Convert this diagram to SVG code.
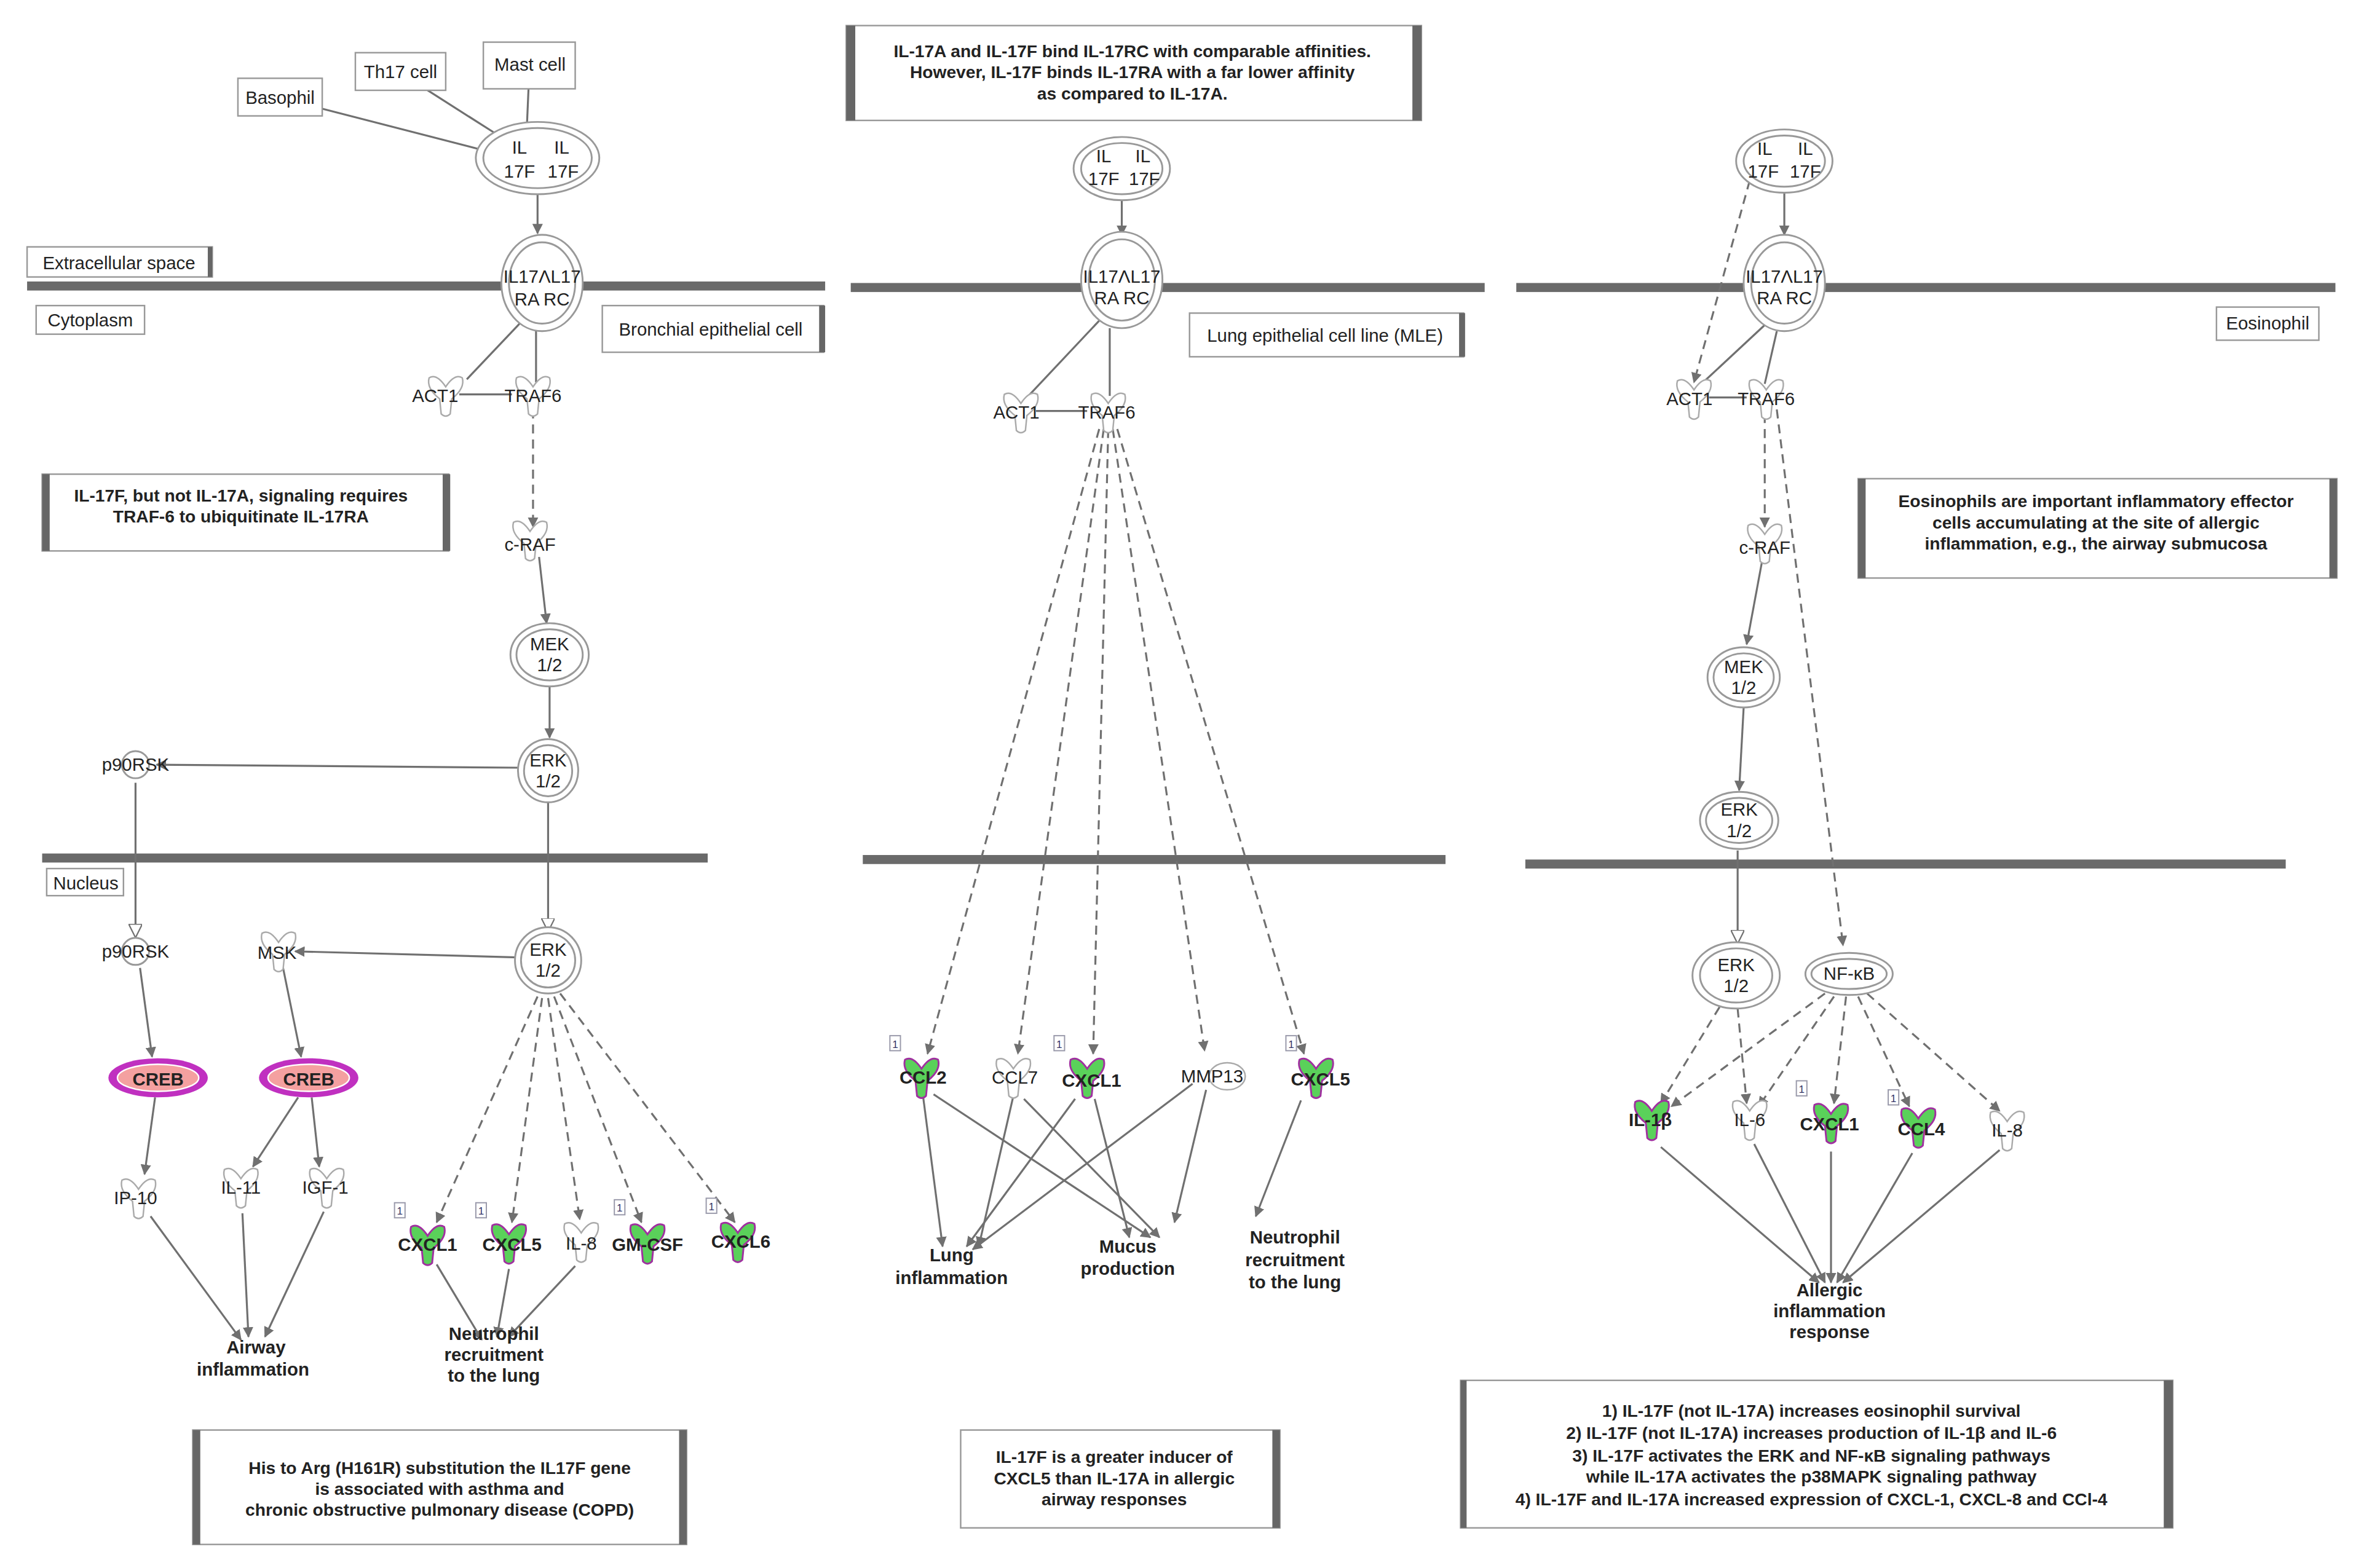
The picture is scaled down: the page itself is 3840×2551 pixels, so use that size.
<svg xmlns="http://www.w3.org/2000/svg" width="3840" height="2551" viewBox="0 0 3840 2551">
<defs>
<style>
text{font-family:"Liberation Sans",Arial,sans-serif;fill:#222}
.lb{font-size:12px;text-anchor:middle}
.bd{font-size:12px;font-weight:bold;text-anchor:middle}
.nt{font-size:11.5px;font-weight:bold;text-anchor:middle}
.c{stroke:#707070;stroke-width:1.3;fill:none}
.f{marker-end:url(#a)}
.o{marker-end:url(#oa)}
.d{stroke-dasharray:6,4}
.box{fill:#fff;stroke:#999;stroke-width:1}
.tb{fill:#666}
.mem{fill:#6a6a6a}
.dbl{fill:#fff;stroke:#999;stroke-width:1.2}
.cg{fill:#5ad15a;stroke:#a030a0;stroke-width:1.2}
.cw{fill:#fff;stroke:#aaa;stroke-width:1}
.badge{fill:#fff;stroke:#99a;stroke-width:0.8}
.bt{font-size:7px;text-anchor:middle;fill:#336}
</style>
<marker id="a" viewBox="0 0 10 10" refX="9" refY="5" markerWidth="7" markerHeight="7" orient="auto" markerUnits="userSpaceOnUse"><path d="M0,0L10,5L0,10Z" fill="#707070"/></marker>
<marker id="oa" viewBox="0 0 10 10" refX="9" refY="5" markerWidth="9" markerHeight="9" orient="auto" markerUnits="userSpaceOnUse"><path d="M0,0L10,5L0,10Z" fill="#fff" stroke="#707070"/></marker>
<path id="cy" d="M-11,-11 Q-6,-14 0,-5 Q6,-14 11,-11 Q13,-4 4,3 L3,13 Q0,16 -3,13 L-4,3 Q-13,-4 -11,-11Z"/>
</defs>
<rect width="3840" height="2551" fill="#fff"/>
<g transform="scale(2.449)">
<!-- membranes -->
<g id="membranes">
<rect class="mem" x="18" y="187" width="530" height="6"/>
<rect class="mem" x="28" y="567" width="442" height="6"/>
<rect class="mem" x="565" y="188" width="421" height="6"/>
<rect class="mem" x="573" y="568" width="387" height="6"/>
<rect class="mem" x="1007" y="188" width="544" height="6"/>
<rect class="mem" x="1013" y="571" width="505" height="6"/>
</g>
<!-- connectors -->
<g id="connectors">
<line class="c" x1="213" y1="72" x2="318" y2="99"/>
<line class="c" x1="284" y1="60" x2="328" y2="88"/>
<line class="c" x1="351" y1="59" x2="350" y2="82"/>
<line class="c f" x1="357" y1="129" x2="357" y2="155"/>
<line class="c" x1="346" y1="214" x2="310" y2="252"/>
<line class="c" x1="356" y1="220" x2="356" y2="254"/>
<line class="c" x1="305" y1="262" x2="340" y2="262"/>
<line class="c f d" x1="354" y1="272" x2="354" y2="350"/>
<line class="c f" x1="358" y1="370" x2="363" y2="414"/>
<line class="c f" x1="365" y1="455" x2="365" y2="490"/>
<line class="c f" x1="345" y1="510" x2="104" y2="508"/>
<line class="c o" x1="90" y1="520" x2="90" y2="622"/>
<line class="c o" x1="364" y1="533" x2="364" y2="618"/>
<line class="c f" x1="344" y1="636" x2="196" y2="632"/>
<line class="c f" x1="93" y1="643" x2="101" y2="702"/>
<line class="c f" x1="188" y1="643" x2="200" y2="702"/>
<line class="c f" x1="103" y1="729" x2="96" y2="780"/>
<line class="c f" x1="198" y1="729" x2="168" y2="775"/>
<line class="c f" x1="207" y1="729" x2="212" y2="775"/>
<line class="c f" x1="100" y1="808" x2="160" y2="890"/>
<line class="c f" x1="161" y1="806" x2="165" y2="888"/>
<line class="c f" x1="215" y1="805" x2="176" y2="888"/>
<line class="c f d" x1="357" y1="662" x2="290" y2="812"/>
<line class="c f d" x1="360" y1="663" x2="340" y2="812"/>
<line class="c f d" x1="364" y1="663" x2="385" y2="810"/>
<line class="c f d" x1="368" y1="662" x2="426" y2="812"/>
<line class="c f d" x1="372" y1="660" x2="488" y2="812"/>
<line class="c f" x1="290" y1="840" x2="320" y2="890"/>
<line class="c f" x1="338" y1="843" x2="330" y2="888"/>
<line class="c f" x1="382" y1="841" x2="338" y2="888"/>
<!-- middle -->
<line class="c f" x1="745" y1="133" x2="745" y2="156"/>
<line class="c" x1="731" y1="212" x2="683" y2="263"/>
<line class="c" x1="737" y1="218" x2="737" y2="263"/>
<line class="c" x1="688" y1="273" x2="722" y2="273"/>
<line class="c f d" x1="730" y1="285" x2="616" y2="700"/>
<line class="c f d" x1="733" y1="285" x2="676" y2="700"/>
<line class="c f d" x1="736" y1="285" x2="726" y2="700"/>
<line class="c f d" x1="739" y1="285" x2="800" y2="698"/>
<line class="c f d" x1="742" y1="285" x2="866" y2="700"/>
<line class="c f" x1="613" y1="728" x2="626" y2="828"/>
<line class="c f" x1="620" y1="727" x2="764" y2="822"/>
<line class="c f" x1="673" y1="728" x2="650" y2="828"/>
<line class="c f" x1="680" y1="730" x2="770" y="822" y2="822"/>
<line class="c f" x1="714" y1="730" x2="642" y2="828"/>
<line class="c f" x1="727" y1="730" x2="750" y2="822"/>
<line class="c f" x1="792" y1="720" x2="646" y2="830"/>
<line class="c f" x1="801" y1="724" x2="780" y2="812"/>
<line class="c f" x1="864" y1="731" x2="834" y2="808"/>
<!-- right -->
<line class="c f" x1="1185" y1="128" x2="1185" y2="156"/>
<line class="c f d" x1="1162" y1="120" x2="1125" y2="254"/>
<line class="c" x1="1173" y1="215" x2="1130" y2="255"/>
<line class="c" x1="1180" y1="220" x2="1172" y2="255"/>
<line class="c" x1="1135" y1="264" x2="1160" y2="264"/>
<line class="c f d" x1="1172" y1="275" x2="1172" y2="350"/>
<line class="c f d" x1="1180" y1="272" x2="1224" y2="628"/>
<line class="c f" x1="1170" y1="374" x2="1160" y2="428"/>
<line class="c f" x1="1158" y1="470" x2="1155" y2="525"/>
<line class="c o" x1="1154" y1="565" x2="1154" y2="626"/>
<line class="c f d" x1="1142" y1="669" x2="1103" y2="733"/>
<line class="c f d" x1="1154" y1="670" x2="1160" y2="733"/>
<line class="c f d" x1="1212" y1="660" x2="1110" y2="735"/>
<line class="c f d" x1="1218" y1="662" x2="1168" y2="735"/>
<line class="c f d" x1="1226" y1="662" x2="1218" y2="733"/>
<line class="c f d" x1="1234" y1="662" x2="1268" y2="735"/>
<line class="c f d" x1="1240" y1="660" x2="1328" y2="738"/>
<line class="c f" x1="1103" y1="762" x2="1208" y2="852"/>
<line class="c f" x1="1165" y1="760" x2="1212" y2="852"/>
<line class="c f" x1="1216" y1="765" x2="1216" y2="852"/>
<line class="c f" x1="1270" y1="766" x2="1220" y2="852"/>
<line class="c f" x1="1328" y1="764" x2="1224" y2="852"/>
</g>
<!-- labels & notes -->
<g id="labels">
<rect class="box" x="158" y="52" width="56" height="25"/><text class="lb" x="186" y="69">Basophil</text>
<rect class="box" x="236" y="35" width="60" height="25"/><text class="lb" x="266" y="52">Th17 cell</text>
<rect class="box" x="321" y="28" width="61" height="31"/><text class="lb" x="352" y="47">Mast cell</text>
<rect class="box" x="18" y="164" width="123" height="20"/><rect class="tb" x="138" y="164" width="3" height="20"/><text class="lb" x="79" y="179">Extracellular space</text>
<rect class="box" x="24" y="203" width="72" height="19"/><text class="lb" x="60" y="217">Cytoplasm</text>
<rect class="box" x="400" y="203" width="147" height="31"/><rect class="tb" x="544" y="203" width="4" height="31"/><text class="lb" x="472" y="223">Bronchial epithelial cell</text>
<rect class="box" x="31" y="577" width="51" height="18"/><text class="lb" x="57" y="591">Nucleus</text>
<rect class="box" x="790" y="208" width="182" height="29"/><rect class="tb" x="969" y="208" width="4" height="29"/><text class="lb" x="880" y="227">Lung epithelial cell line (MLE)</text>
<rect class="box" x="1472" y="204" width="68" height="22"/><text class="lb" x="1506" y="219">Eosinophil</text>
</g>
<g id="note1"><rect class="box" x="28" y="315" width="270" height="51"/><rect class="tb" x="28" y="315" width="5" height="51"/><rect class="tb" x="294" y="315" width="5" height="51"/>
<text class="nt" x="160" y="333">IL-17F, but not IL-17A, signaling requires</text><text class="nt" x="160" y="347">TRAF-6 to ubiquitinate IL-17RA</text></g>
<g id="note2"><rect class="box" x="128" y="950" width="328" height="76"/><rect class="tb" x="128" y="950" width="5" height="76"/><rect class="tb" x="451" y="950" width="5" height="76"/>
<text class="nt" x="292" y="979">His to Arg (H161R) substitution the IL17F gene</text><text class="nt" x="292" y="993">is associated with asthma and</text><text class="nt" x="292" y="1007">chronic obstructive pulmonary disease (COPD)</text></g>
<g id="note3"><rect class="box" x="562" y="17" width="382" height="63"/><rect class="tb" x="562" y="17" width="6" height="63"/><rect class="tb" x="938" y="17" width="6" height="63"/>
<text class="nt" x="752" y="38">IL-17A and IL-17F bind IL-17RC with comparable affinities.</text><text class="nt" x="752" y="52">However, IL-17F binds IL-17RA with a far lower affinity</text><text class="nt" x="752" y="66">as compared to IL-17A.</text></g>
<g id="note4"><rect class="box" x="638" y="950" width="212" height="65"/><rect class="tb" x="845" y="950" width="5" height="65"/>
<text class="nt" x="740" y="972">IL-17F is a greater inducer of</text><text class="nt" x="740" y="986">CXCL5 than IL-17A in allergic</text><text class="nt" x="740" y="1000">airway responses</text></g>
<g id="note5"><rect class="box" x="1234" y="318" width="318" height="66"/><rect class="tb" x="1234" y="318" width="5" height="66"/><rect class="tb" x="1547" y="318" width="5" height="66"/>
<text class="nt" x="1392" y="337">Eosinophils are important inflammatory effector</text><text class="nt" x="1392" y="351">cells accumulating at the site of allergic</text><text class="nt" x="1392" y="365">inflammation, e.g., the airway submucosa</text></g>
<g id="note6"><rect class="box" x="970" y="917" width="473" height="98"/><rect class="tb" x="970" y="917" width="4" height="98"/><rect class="tb" x="1437" y="917" width="6" height="98"/>
<text class="nt" x="1203" y="941">1) IL-17F (not IL-17A) increases eosinophil survival</text>
<text class="nt" x="1203" y="956">2) IL-17F (not IL-17A) increases production of IL-1β and IL-6</text>
<text class="nt" x="1203" y="971">3) IL-17F activates the ERK and NF-κB signaling pathways</text>
<text class="nt" x="1203" y="985">while IL-17A activates the p38MAPK signaling pathway</text>
<text class="nt" x="1203" y="1000">4) IL-17F and IL-17A increased expression of CXCL-1, CXCL-8 and CCl-4</text></g>
<!-- left nodes -->
<g id="IL17F_L"><ellipse class="dbl" cx="357" cy="105" rx="41" ry="24"/><ellipse class="dbl" cx="357" cy="105" rx="36" ry="20"/><text class="lb" x="345" y="102">IL</text><text class="lb" x="373" y="102">IL</text><text class="lb" x="345" y="118">17F</text><text class="lb" x="374" y="118">17F</text></g>
<g id="IL17R_L"><ellipse class="dbl" cx="360" cy="188" rx="27" ry="32"/><ellipse class="dbl" cx="360" cy="188" rx="22" ry="27"/><text class="lb" x="360" y="188">IL17ΛL17</text><text class="lb" x="360" y="203">RA RC</text></g>
<g id="ACT1_L"><use href="#cy" x="296" y="262" class="cw" transform="rotate(0)"/><text class="lb" x="289" y="267">ACT1</text></g>
<g id="TRAF6_L"><use href="#cy" x="354" y="262" class="cw"/><text class="lb" x="354" y="267">TRAF6</text></g>
<g id="cRAF_L"><use href="#cy" x="352" y="358" class="cw"/><text class="lb" x="352" y="366">c-RAF</text></g>
<g id="MEK_L"><ellipse class="dbl" cx="365" cy="435" rx="26" ry="21"/><ellipse class="dbl" cx="365" cy="435" rx="22" ry="17"/><text class="lb" x="365" y="432">MEK</text><text class="lb" x="365" y="446">1/2</text></g>
<g id="ERK_L1"><ellipse class="dbl" cx="364" cy="512" rx="20" ry="21"/><ellipse class="dbl" cx="364" cy="512" rx="16" ry="17"/><text class="lb" x="364" y="509">ERK</text><text class="lb" x="364" y="523">1/2</text></g>
<g id="p90RSK_1"><circle class="dbl" cx="90" cy="508" r="9"/><text class="lb" x="90" y="512">p90RSK</text></g>
<g id="ERK_L2"><ellipse class="dbl" cx="364" cy="638" rx="22" ry="22"/><ellipse class="dbl" cx="364" cy="638" rx="18" ry="18"/><text class="lb" x="364" y="635">ERK</text><text class="lb" x="364" y="649">1/2</text></g>
<g id="p90RSK_2"><circle class="dbl" cx="90" cy="632" r="9"/><text class="lb" x="90" y="636">p90RSK</text></g>
<g id="MSK"><use href="#cy" x="185" y="631" class="cw"/><text class="lb" x="184" y="637">MSK</text></g>
<g id="CREB1"><ellipse cx="105" cy="716" rx="33" ry="13" fill="#c030c0"/><ellipse cx="105" cy="716" rx="27" ry="9" fill="#f4a0a0" stroke="#fff" stroke-width="1"/><text class="bd" x="105" y="721">CREB</text></g>
<g id="CREB2"><ellipse cx="205" cy="716" rx="33" ry="13" fill="#c030c0"/><ellipse cx="205" cy="716" rx="27" ry="9" fill="#f4a0a0" stroke="#fff" stroke-width="1"/><text class="bd" x="205" y="721">CREB</text></g>
<g id="IP10"><use href="#cy" x="92" y="795" class="cw"/><text class="lb" x="90" y="800">IP-10</text></g>
<g id="IL11"><use href="#cy" x="160" y="788" class="cw"/><text class="lb" x="160" y="793">IL-11</text></g>
<g id="IGF1"><use href="#cy" x="217" y="788" class="cw"/><text class="lb" x="216" y="793">IGF-1</text></g>
<g id="Airway"><text class="bd" x="170" y="899">Airway</text><text class="bd" x="168" y="914">inflammation</text></g>
<g id="CXCL1_L"><use href="#cy" x="284" y="826" class="cg"/><text class="bd" x="284" y="831">CXCL1</text><rect class="badge" x="262" y="799" width="7" height="10"/><text class="bt" x="265.5" y="807">1</text></g>
<g id="CXCL5_L"><use href="#cy" x="338" y="825" class="cg"/><text class="bd" x="340" y="831">CXCL5</text><rect class="badge" x="316" y="799" width="7" height="10"/><text class="bt" x="319.5" y="807">1</text></g>
<g id="IL8_L"><use href="#cy" x="386" y="824" class="cw"/><text class="lb" x="386" y="830">IL-8</text></g>
<g id="GMCSF"><use href="#cy" x="430" y="825" class="cg"/><text class="bd" x="430" y="831">GM-CSF</text><rect class="badge" x="408" y="797" width="7" height="10"/><text class="bt" x="411.5" y="805">1</text></g>
<g id="CXCL6"><use href="#cy" x="490" y="824" class="cg"/><text class="bd" x="492" y="829">CXCL6</text><rect class="badge" x="469" y="796" width="7" height="10"/><text class="bt" x="472.5" y="804">1</text></g>
<g id="Neut_L"><text class="bd" x="328" y="890">Neutrophil</text><text class="bd" x="328" y="904">recruitment</text><text class="bd" x="328" y="918">to the lung</text></g>
<!-- middle nodes -->
<g id="IL17F_M"><ellipse class="dbl" cx="745" cy="112" rx="32" ry="21"/><ellipse class="dbl" cx="745" cy="112" rx="27" ry="17"/><text class="lb" x="733" y="108">IL</text><text class="lb" x="759" y="108">IL</text><text class="lb" x="733" y="123">17F</text><text class="lb" x="760" y="123">17F</text></g>
<g id="IL17R_M"><ellipse class="dbl" cx="745" cy="186" rx="27" ry="32"/><ellipse class="dbl" cx="745" cy="186" rx="22" ry="27"/><text class="lb" x="745" y="188">IL17ΛL17</text><text class="lb" x="745" y="202">RA RC</text></g>
<g id="ACT1_M"><use href="#cy" x="678" y="273" class="cw"/><text class="lb" x="675" y="278">ACT1</text></g>
<g id="TRAF6_M"><use href="#cy" x="736" y="273" class="cw"/><text class="lb" x="735" y="278">TRAF6</text></g>
<g id="CCL2"><use href="#cy" x="612" y="715" class="cg"/><text class="bd" x="613" y="720">CCL2</text><rect class="badge" x="591" y="688" width="7" height="10"/><text class="bt" x="594.5" y="696">1</text></g>
<g id="CCL7"><use href="#cy" x="673" y="715" class="cw"/><text class="lb" x="674" y="720">CCL7</text></g>
<g id="CXCL1_M"><use href="#cy" x="722" y="715" class="cg"/><text class="bd" x="725" y="722">CXCL1</text><rect class="badge" x="700" y="688" width="7" height="10"/><text class="bt" x="703.5" y="696">1</text></g>
<g id="MMP13"><ellipse class="cw" cx="815" cy="715" rx="12" ry="9"/><text class="lb" x="805" y="719">MMP13</text></g>
<g id="CXCL5_M"><use href="#cy" x="874" y="715" class="cg"/><text class="bd" x="877" y="721">CXCL5</text><rect class="badge" x="854" y="688" width="7" height="10"/><text class="bt" x="857.5" y="696">1</text></g>
<g id="LungInf"><text class="bd" x="632" y="838">Lung</text><text class="bd" x="632" y="853">inflammation</text></g>
<g id="Mucus"><text class="bd" x="749" y="832">Mucus</text><text class="bd" x="749" y="847">production</text></g>
<g id="Neut_M"><text class="bd" x="860" y="826">Neutrophil</text><text class="bd" x="860" y="841">recruitment</text><text class="bd" x="860" y="856">to the lung</text></g>
<!-- right nodes -->
<g id="IL17F_R"><ellipse class="dbl" cx="1185" cy="107" rx="32" ry="21"/><ellipse class="dbl" cx="1185" cy="107" rx="27" ry="17"/><text class="lb" x="1172" y="103">IL</text><text class="lb" x="1199" y="103">IL</text><text class="lb" x="1171" y="118">17F</text><text class="lb" x="1199" y="118">17F</text></g>
<g id="IL17R_R"><ellipse class="dbl" cx="1185" cy="188" rx="27" ry="32"/><ellipse class="dbl" cx="1185" cy="188" rx="22" ry="27"/><text class="lb" x="1185" y="188">IL17ΛL17</text><text class="lb" x="1185" y="202">RA RC</text></g>
<g id="ACT1_R"><use href="#cy" x="1125" y="264" class="cw"/><text class="lb" x="1122" y="269">ACT1</text></g>
<g id="TRAF6_R"><use href="#cy" x="1173" y="264" class="cw"/><text class="lb" x="1173" y="269">TRAF6</text></g>
<g id="cRAF_R"><use href="#cy" x="1172" y="360" class="cw"/><text class="lb" x="1172" y="368">c-RAF</text></g>
<g id="MEK_R"><ellipse class="dbl" cx="1158" cy="450" rx="24" ry="20"/><ellipse class="dbl" cx="1158" cy="450" rx="20" ry="16"/><text class="lb" x="1158" y="447">MEK</text><text class="lb" x="1158" y="461">1/2</text></g>
<g id="ERK_R1"><ellipse class="dbl" cx="1155" cy="545" rx="26" ry="19"/><ellipse class="dbl" cx="1155" cy="545" rx="22" ry="15"/><text class="lb" x="1155" y="542">ERK</text><text class="lb" x="1155" y="556">1/2</text></g>
<g id="ERK_R2"><ellipse class="dbl" cx="1153" cy="648" rx="29" ry="22"/><ellipse class="dbl" cx="1153" cy="648" rx="24" ry="18"/><text class="lb" x="1153" y="645">ERK</text><text class="lb" x="1153" y="659">1/2</text></g>
<g id="NFkB"><ellipse class="dbl" cx="1228" cy="647" rx="29" ry="14"/><ellipse class="dbl" cx="1228" cy="647" rx="25" ry="10"/><text class="lb" x="1228" y="651">NF-κB</text></g>
<g id="IL1b"><use href="#cy" x="1097" y="743" class="cg"/><text class="bd" x="1096" y="748">IL-1β</text></g>
<g id="IL6"><use href="#cy" x="1162" y="743" class="cw"/><text class="lb" x="1162" y="748">IL-6</text></g>
<g id="CXCL1_R"><use href="#cy" x="1216" y="745" class="cg"/><text class="bd" x="1215" y="751">CXCL1</text><rect class="badge" x="1193" y="718" width="7" height="10"/><text class="bt" x="1196.5" y="726">1</text></g>
<g id="CCL4"><use href="#cy" x="1274" y="748" class="cg"/><text class="bd" x="1276" y="754">CCL4</text><rect class="badge" x="1254" y="724" width="7" height="10"/><text class="bt" x="1257.5" y="732">1</text></g>
<g id="IL8_R"><use href="#cy" x="1333" y="750" class="cw"/><text class="lb" x="1333" y="755">IL-8</text></g>
<g id="Allergic"><text class="bd" x="1215" y="861">Allergic</text><text class="bd" x="1215" y="875">inflammation</text><text class="bd" x="1215" y="889">response</text></g>
</g>
</svg>
